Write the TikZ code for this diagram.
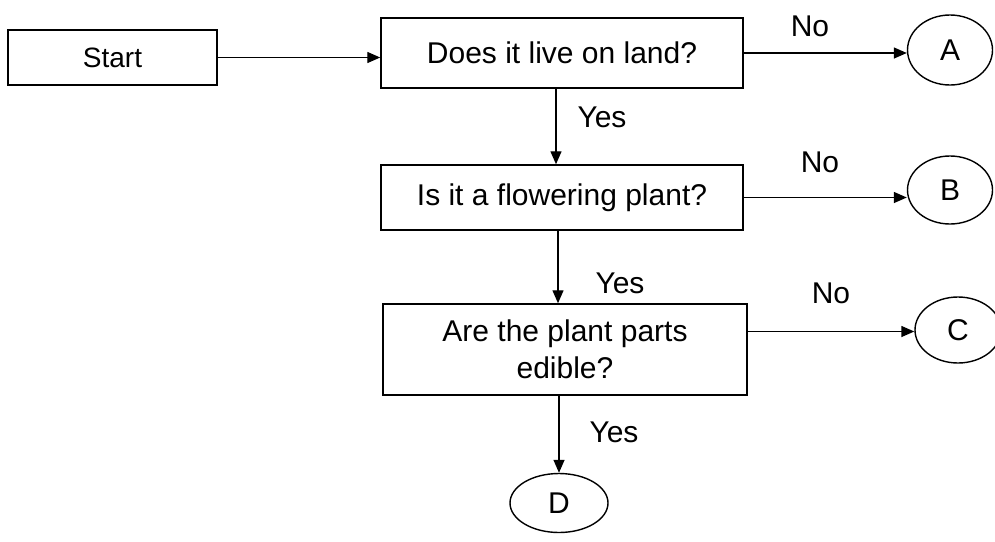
\documentclass[tikz,border=0pt]{standalone}
\usepackage{fontspec}
\setmainfont{Liberation Sans}
\usetikzlibrary{arrows.meta,shapes.geometric}
\tikzset{
  box/.style={draw, line width=1.5pt, rectangle, inner sep=0pt, align=center, font=\fontsize{30}{37}\selectfont},
  term/.style={draw, line width=1.4pt, ellipse, inner sep=0pt, font=\fontsize{30}{34}\selectfont},
  lbl/.style={inner sep=0pt, font=\fontsize{30}{34}\selectfont},
  arr/.style={line width=1.4pt, -{Triangle[length=13pt,width=11pt]}}
}
\begin{document}
\begin{tikzpicture}[x=1pt,y=-1pt]
\useasboundingbox (0,0) rectangle (995,541);
\node[box, minimum width=209pt, minimum height=55pt, font=\fontsize{28}{34}\selectfont] (start) at (112.5,57.5) {Start};
\node[box, minimum width=362pt, minimum height=70pt] (b1) at (562,53) {Does it live on land?};
\node[box, minimum width=362pt, minimum height=65pt] (b2) at (562,197.5) {Is it a flowering plant?};
\node[box, minimum width=364pt, minimum height=91pt] (b3) at (565,349.5) {Are the plant parts\\edible?};
\node[term, minimum width=85pt, minimum height=70pt] (A) at (950,50) {A};
\node[term, minimum width=85pt, minimum height=68pt] (B) at (950,190) {B};
\node[term, minimum width=86pt, minimum height=66pt] (C) at (958,330) {C};
\node[term, minimum width=98pt, minimum height=59pt] (D) at (559,503) {D};
\node[lbl] (no1) at (810,26) {No};
\node[lbl] (no2) at (820,162) {No};
\node[lbl] (no3) at (831,293) {No};
\node[lbl] (yes1) at (602,117) {Yes};
\node[lbl] (yes2) at (620,283) {Yes};
\node[lbl] (yes3) at (614,432) {Yes};
\draw[arr] (start.east) -- (start.east -| b1.west);
\draw[arr] (b1.east) -- (b1.east -| A.west);
\draw[arr] (b2.east) -- (b2.east -| B.west);
\draw[arr] ([yshift=18pt]b3.east) -- ([yshift=18pt]b3.east -| C.west);
\draw[arr] ([xshift=-6pt]b1.south) -- ([xshift=-6pt]b1.south |- b2.north);
\draw[arr] ([xshift=-4pt]b2.south) -- ([xshift=-4pt]b2.south |- b3.north);
\draw[arr] (b3.south -| D.north) -- (D.north);
\end{tikzpicture}
\end{document}
